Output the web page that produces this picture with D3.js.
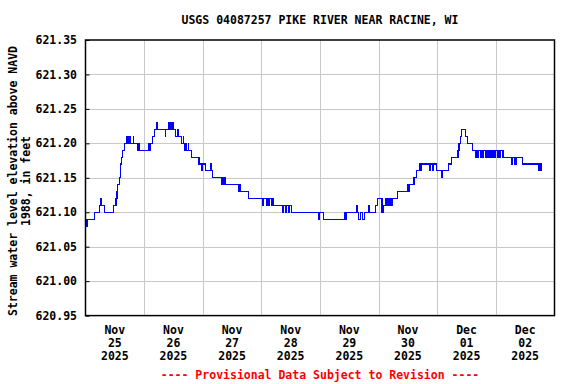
<!DOCTYPE html>
<html><head><meta charset="utf-8">
<script src="https://cdn.jsdelivr.net/npm/d3@7"></script>
<style>
body{margin:0;background:#fff}
svg{display:block}
text{font-family:"DejaVu Sans Mono",monospace;font-weight:bold;font-size:11.5px;fill:#000}
</style>
</head><body><svg id="chart" width="576" height="384"></svg>
<script>
// ---------------- data ----------------
const chartTitle = "USGS 04087257 PIKE RIVER NEAR RACINE, WI";
const yTitleLines = ["Stream water level elevation above NAVD", "1988, in feet"];
const footnote = "---- Provisional Data Subject to Revision ----";
const startUtc = Date.UTC(2025, 10, 25, 0, 0);   // Nov 25 2025 00:00
const endUtc = Date.UTC(2025, 11, 3, 0, 0);      // Dec 03 2025 00:00
const dayMonths = ["Nov", "Nov", "Nov", "Nov", "Nov", "Nov", "Dec", "Dec"];
const dayNumbers = ["25", "26", "27", "28", "29", "30", "01", "02"];
const dayYears = ["2025", "2025", "2025", "2025", "2025", "2025", "2025", "2025"];
const yTickValues = [620.95, 621.00, 621.05, 621.10, 621.15, 621.20, 621.25, 621.30, 621.35];

// hours after Nov 25 00:00 at which the gage level changes, and the new level (ft)
const hoursFromStart = [
  0.0, 0.3, 0.6, 0.9, 3.7, 5.7, 6.0, 6.6, 7.7, 11.6, 12.5, 12.9, 13.2, 13.9, 14.2, 14.4, 14.8, 15.2, 15.8,
  17.0, 17.4, 17.7, 18.0, 18.3, 18.6, 19.5, 19.8, 21.4, 21.7, 22.0, 25.9, 26.2, 26.5, 27.6, 28.4, 29.1, 29.5,
  32.6, 32.9, 33.8, 34.2, 34.6, 35.0, 35.6, 36.2, 37.0, 37.6, 37.9, 39.3, 40.0, 40.3, 40.6, 41.0, 41.3, 42.0, 42.3,
  43.4, 46.1, 46.4, 46.7, 47.5, 47.8, 49.3, 51.2, 51.6, 52.0, 55.7, 56.1, 56.5, 56.8, 57.1,
  62.5, 62.9, 63.3, 66.8, 72.5, 73.0, 74.0, 74.4, 75.0, 75.4, 76.0, 76.4, 77.0,
  80.7, 81.1, 81.7, 82.1, 83.0, 83.4, 84.5, 95.4, 95.8, 97.5, 105.9, 106.3, 107.0,
  111.1, 111.5, 111.8, 112.6, 113.5, 114.4, 115.9, 116.3, 118.9, 119.4, 121.4, 121.8, 123.0,
  123.8, 124.2, 124.6, 125.0, 125.4, 125.8, 127.9, 131.7, 132.1, 132.5, 134.5, 135.4, 136.8, 137.1, 137.4,
  141.0, 141.4, 142.2, 142.6, 143.6, 145.9, 146.3, 148.7, 149.7, 152.5, 152.9, 153.6, 154.1, 155.4, 156.2,
  158.4, 159.7, 160.2, 160.6, 161.0, 161.6, 162.0, 162.6, 163.0, 163.6, 164.0, 164.6, 165.0, 165.6, 166.0,
  166.6, 167.0, 167.6, 168.0, 168.6, 169.0, 169.6, 170.0, 170.6, 171.0, 171.3,
  174.5, 174.9, 175.5, 175.9, 176.2, 176.6, 178.8, 185.3, 185.7, 186.1, 186.5, 187.0
];
const levels = [
  621.08, 621.09, 621.08, 621.09, 621.10, 621.11, 621.12, 621.11, 621.10, 621.11, 621.12, 621.13, 621.14, 621.15, 621.16, 621.17, 621.18, 621.19, 621.20,
  621.21, 621.20, 621.21, 621.20, 621.21, 621.20, 621.21, 621.20, 621.19, 621.20, 621.19, 621.20, 621.19, 621.20, 621.21, 621.22, 621.23, 621.22,
  621.21, 621.22, 621.23, 621.22, 621.23, 621.22, 621.23, 621.22, 621.21, 621.22, 621.21, 621.20, 621.21, 621.20, 621.19, 621.20, 621.19, 621.20, 621.19,
  621.18, 621.17, 621.18, 621.17, 621.16, 621.17, 621.16, 621.17, 621.16, 621.15, 621.14, 621.15, 621.14, 621.15, 621.14,
  621.13, 621.14, 621.13, 621.12, 621.11, 621.12, 621.11, 621.12, 621.11, 621.12, 621.11, 621.12, 621.11,
  621.10, 621.11, 621.10, 621.11, 621.10, 621.11, 621.10, 621.09, 621.10, 621.09, 621.10, 621.09, 621.10,
  621.11, 621.10, 621.09, 621.10, 621.09, 621.10, 621.11, 621.10, 621.11, 621.12, 621.10, 621.11, 621.12,
  621.11, 621.12, 621.11, 621.12, 621.11, 621.12, 621.13, 621.14, 621.13, 621.14, 621.15, 621.16, 621.17, 621.16, 621.17,
  621.16, 621.17, 621.16, 621.17, 621.16, 621.15, 621.16, 621.17, 621.18, 621.19, 621.20, 621.21, 621.22, 621.21, 621.20,
  621.19, 621.18, 621.19, 621.18, 621.19, 621.18, 621.19, 621.18, 621.19, 621.18, 621.19, 621.18, 621.19, 621.18, 621.19,
  621.18, 621.19, 621.18, 621.19, 621.18, 621.19, 621.18, 621.19, 621.18, 621.19, 621.18,
  621.17, 621.18, 621.17, 621.18, 621.17, 621.18, 621.17, 621.16, 621.17, 621.16, 621.17, 621.17
];

// ---------------- drawing ----------------
const svg = d3.select("#chart");
const plot = {left: 85.5, right: 554.5, top: 40, bottom: 315.6};

const x = d3.scaleUtc().domain([new Date(startUtc), new Date(endUtc)]).range([plot.left, plot.right]);
const y = d3.scaleLinear().domain([620.95, 621.35]).range([plot.bottom, plot.top]);

const series = hoursFromStart.map((h, i) => ({t: new Date(startUtc + h * 3600e3), v: levels[i]}));
const dayStarts = d3.utcDay.range(new Date(startUtc), new Date(endUtc));

// grid
const grid = svg.append("g").attr("stroke", "#c8c8c8").attr("stroke-width", 1).attr("shape-rendering", "crispEdges");
grid.selectAll("line.h").data(yTickValues.slice(1, -1)).join("line")
  .attr("x1", plot.left).attr("x2", plot.right)
  .attr("y1", d => Math.round(y(d)) + 0.5).attr("y2", d => Math.round(y(d)) + 0.5);
grid.selectAll("line.v").data(dayStarts.slice(1)).join("line")
  .attr("y1", plot.top).attr("y2", plot.bottom)
  .attr("x1", d => Math.round(x(d)) + 0.5).attr("x2", d => Math.round(x(d)) + 0.5);

// data line
const line = d3.line().x(d => x(d.t)).y(d => y(d.v)).curve(d3.curveStepAfter);
svg.append("path").datum(series)
  .attr("d", line).attr("fill", "none").attr("stroke", "#0000ff")
  .attr("stroke-width", 1.1).attr("shape-rendering", "crispEdges");

// frame
svg.append("rect").attr("x", plot.left).attr("y", plot.top)
  .attr("width", plot.right - plot.left).attr("height", plot.bottom - plot.top)
  .attr("fill", "none").attr("stroke", "#000").attr("stroke-width", 1.5);

// y axis (ticks inside)
const yAxis = d3.axisRight(y).tickValues(yTickValues).tickSize(4).tickFormat("");
const gy = svg.append("g").attr("transform", `translate(${plot.left},0)`).call(yAxis);
gy.select(".domain").remove();
gy.selectAll(".tick line").attr("stroke", "#000");
svg.append("g").selectAll("text").data(yTickValues).join("text")
  .attr("x", 77).attr("y", d => y(d)).attr("dy", "0.36em")
  .attr("text-anchor", "end").text(d => d3.format(".2f")(d));

// x labels (centered at noon of each day)
const xl = svg.append("g").selectAll("g").data(dayStarts).join("g")
  .attr("transform", d => `translate(${x(d3.utcHour.offset(d, 12))},0)`);
xl.append("text").attr("y", 334).attr("text-anchor", "middle").text((d, i) => dayMonths[i]);
xl.append("text").attr("y", 347).attr("text-anchor", "middle").text((d, i) => dayNumbers[i]);
xl.append("text").attr("y", 360).attr("text-anchor", "middle").text((d, i) => dayYears[i]);

// title
svg.append("text").attr("x", (plot.left + plot.right) / 2).attr("y", 24)
  .attr("text-anchor", "middle").text(chartTitle);

// y title
yTitleLines.forEach((t, i) => {
  svg.append("text").attr("transform", `translate(${16.5 + i * 13},181) rotate(-90)`)
    .attr("text-anchor", "middle").text(t);
});

// footnote
svg.append("text").attr("x", (plot.left + plot.right) / 2).attr("y", 379)
  .attr("text-anchor", "middle").style("fill", "#ff0000").text(footnote);
</script>
</body></html>
